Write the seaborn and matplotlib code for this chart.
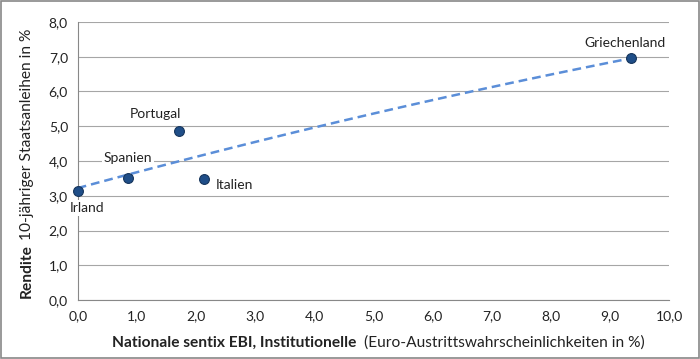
import numpy as np
import pandas as pd
import matplotlib
matplotlib.use('Agg')
import matplotlib.pyplot as plt
import seaborn as sns

laender = ['Irland', 'Spanien', 'Portugal', 'Italien', 'Griechenland']
ebi = [0.0, 0.85, 1.71, 2.13, 9.35]
rendite = [3.13, 3.52, 4.86, 3.48, 6.96]
label_offsets = [(7, -12), (0, 14), (-17, 12), (22, -4), (-4, 11)]

df = pd.DataFrame({'land': laender, 'ebi': ebi, 'rendite': rendite})

sns.set_style('white')
plt.rcParams['font.family'] = ['Lato', 'DejaVu Sans']

fig = plt.figure(figsize=(7, 3.59), dpi=100)
ax = fig.add_axes([0.111, 0.164, 0.845, 0.775])

# trend line (polynomial, like the Excel trendline)
coef = np.polyfit(df['ebi'], df['rendite'], 2)
xs = np.linspace(0, df['ebi'].max(), 100)
ax.plot(xs, np.polyval(coef, xs), color='#5B8ED8', lw=1.8, ls=(0, (3.5, 2)), zorder=2)

sns.scatterplot(data=df, x='ebi', y='rendite', ax=ax, s=50, color='#1F4E88',
                edgecolor='#16355C', linewidth=0.8, zorder=3, clip_on=False)

for land, x, y, off in zip(laender, ebi, rendite, label_offsets):
    ax.annotate(land, (x, y), xytext=off, textcoords='offset points',
                ha='center', va='center', fontsize=10, color='#222222',
                bbox=dict(boxstyle='square,pad=0.15', fc='white', ec='none'), zorder=4)

ax.set_xlim(0, 10)
ax.set_ylim(0, 8)
ax.set_xticks(np.arange(0, 10.5, 1))
ax.set_yticks(np.arange(0, 8.5, 1))
fmt = lambda v: f'{v:.1f}'.replace('.', ',')
ax.set_xticklabels([fmt(v) for v in np.arange(0, 10.5, 1)])
ax.set_yticklabels([fmt(v) for v in np.arange(0, 8.5, 1)])
ax.tick_params(axis='both', labelsize=10, colors='#222222', length=4, width=0.8,
               direction='out', pad=3)
ax.tick_params(axis='x', color='#888888')
ax.tick_params(axis='y', color='#888888')
ax.grid(axis='y', color='#A6A6A6', lw=0.8)
ax.set_axisbelow(True)
for s in ['top', 'right']:
    ax.spines[s].set_visible(False)
for s in ['left', 'bottom']:
    ax.spines[s].set_color('#888888')
    ax.spines[s].set_linewidth(0.8)
ax.set_xlabel('')
ax.set_ylabel('')

# axis titles: bold part + normal part
t1 = fig.text(0.16, 0.035, 'Nationale sentix EBI, Institutionelle', fontsize=11.2,
              fontweight='bold', color='#222222', va='baseline')
ax.annotate('  (Euro-Austrittswahrscheinlichkeiten in %)', xy=(1, 0), xycoords=t1,
            fontsize=11.2, color='#222222', va='bottom', annotation_clip=False)

t2 = fig.text(0.028, 0.17, 'Rendite', fontsize=11.2, fontweight='bold',
              color='#222222', rotation=90, ha='left', va='bottom')
ax.annotate(' 10-jähriger Staatsanleihen in %', xy=(0, 1), xycoords=t2,
            fontsize=11.2, color='#222222', rotation=90, ha='left', va='bottom',
            annotation_clip=False)

fig.patches.append(plt.Rectangle((0.002, 0.003), 0.996, 0.994, transform=fig.transFigure,
                                 fill=False, ec='#888888', lw=1.2))

fig.savefig('out.png', dpi=100)
